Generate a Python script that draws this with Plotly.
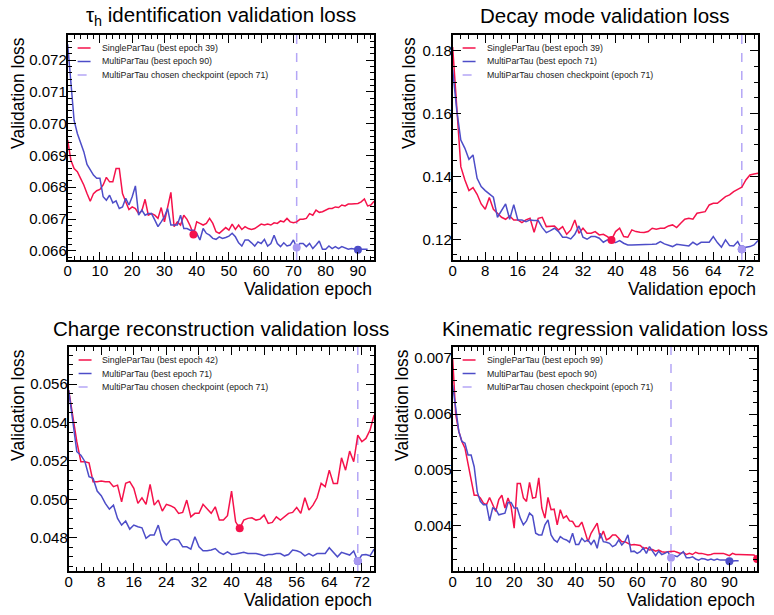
import plotly.graph_objects as go

W, H = 774, 615

# ---------------- data ----------------
CHOSEN_EPOCH = 71

tau_single = [0.06948, 0.06885, 0.06859, 0.06849, 0.06828, 0.06807, 0.06780, 0.06756, 0.06780, 0.06789,
              0.06793, 0.06807, 0.06831, 0.06817, 0.06817, 0.06859, 0.06859, 0.06780, 0.06754, 0.06730,
              0.06738, 0.06733, 0.06717, 0.06726, 0.06762, 0.06712, 0.06717, 0.06712, 0.06702, 0.06736,
              0.06691, 0.06733, 0.06784, 0.06676, 0.06691, 0.06681, 0.06712, 0.06699, 0.06678, 0.06651,
              0.06691, 0.06686, 0.06681, 0.06686, 0.06702, 0.06686, 0.06660, 0.06655, 0.06665, 0.06673,
              0.06665, 0.06684, 0.06667, 0.06681, 0.06667, 0.06676, 0.06670, 0.06667, 0.06670, 0.06676,
              0.06684, 0.06681, 0.06684, 0.06681, 0.06688, 0.06686, 0.06694, 0.06691, 0.06702, 0.06691,
              0.06688, 0.06691, 0.06699, 0.06699, 0.06702, 0.06717, 0.06712, 0.06728, 0.06721, 0.06723,
              0.06728, 0.06733, 0.06733, 0.06738, 0.06736, 0.06744, 0.06741, 0.06747, 0.06747, 0.06749,
              0.06749, 0.06754, 0.06763, 0.06741, 0.06744, 0.06756]
tau_multi = [0.07250, 0.07130, 0.07010, 0.06969, 0.06943, 0.06912, 0.06872, 0.06854, 0.06838, 0.06828,
             0.06828, 0.06770, 0.06759, 0.06775, 0.06751, 0.06757, 0.06733, 0.06738, 0.06765, 0.06744,
             0.06770, 0.06804, 0.06712, 0.06728, 0.06712, 0.06717, 0.06717, 0.06697, 0.06676, 0.06691,
             0.06707, 0.06733, 0.06681, 0.06681, 0.06681, 0.06712, 0.06670, 0.06670, 0.06665, 0.06665,
             0.06655, 0.06634, 0.06670, 0.06655, 0.06649, 0.06639, 0.06636, 0.06644, 0.06639, 0.06642,
             0.06646, 0.06655, 0.06644, 0.06625, 0.06615, 0.06634, 0.06634, 0.06625, 0.06615, 0.06628,
             0.06623, 0.06636, 0.06615, 0.06623, 0.06649, 0.06623, 0.06613, 0.06625, 0.06615, 0.06618,
             0.06634, 0.06610, 0.06623, 0.06623, 0.06613, 0.06623, 0.06607, 0.06618, 0.06631, 0.06605,
             0.06605, 0.06615, 0.06607, 0.06613, 0.06607, 0.06613, 0.06609, 0.06605, 0.06607, 0.06605,
             0.06603, 0.06605, 0.06605, 0.06605]

dm_single = [0.18120, 0.16113, 0.14311, 0.13887, 0.13548, 0.13643, 0.13431, 0.13124, 0.12954, 0.13325,
             0.12954, 0.12827, 0.12700, 0.12636, 0.12742, 0.12615, 0.12615, 0.12530, 0.12615, 0.12668,
             0.12223, 0.12668, 0.12700, 0.12403, 0.12424, 0.12424, 0.12297, 0.12403, 0.12159, 0.12297,
             0.12615, 0.12191, 0.12350, 0.12191, 0.12191, 0.12244, 0.12138, 0.12159, 0.12085, 0.11979,
             0.12244, 0.12350, 0.12085, 0.12064, 0.12297, 0.12244, 0.12223, 0.12212, 0.12244, 0.12350,
             0.12318, 0.12350, 0.12350, 0.12424, 0.12456, 0.12371, 0.12509, 0.12636, 0.12668, 0.12636,
             0.12827, 0.12848, 0.12880, 0.13092, 0.13145, 0.13145, 0.13251, 0.13357, 0.13410, 0.13516,
             0.13590, 0.13654, 0.13887, 0.14046, 0.14078, 0.14099]
dm_multi = [0.17400, 0.16113, 0.15159, 0.14894, 0.14544, 0.14682, 0.13940, 0.13675, 0.13548, 0.13431,
            0.13336, 0.12700, 0.12933, 0.13124, 0.12636, 0.13103, 0.12615, 0.12615, 0.12562, 0.12615,
            0.12594, 0.12594, 0.12371, 0.12212, 0.12276, 0.12350, 0.12244, 0.12064, 0.12064, 0.12011,
            0.12159, 0.12424, 0.12064, 0.12000, 0.12085, 0.12085, 0.12032, 0.11905, 0.11979, 0.11905,
            0.11894, 0.11958, 0.11873, 0.11820, 0.11820, 0.11820, 0.11820, 0.11820, 0.11841, 0.11841,
            0.11852, 0.11926, 0.11852, 0.11799, 0.11767, 0.11841, 0.11820, 0.11799, 0.11788, 0.11905,
            0.11820, 0.11905, 0.11894, 0.11905, 0.12085, 0.11894, 0.11746, 0.11979, 0.11799, 0.11788,
            0.11926, 0.11682, 0.11746, 0.11767, 0.11820, 0.11958]

charge_single = [0.05569, 0.05439, 0.05300, 0.05196, 0.05196, 0.05190, 0.05092, 0.05092, 0.05095, 0.05092,
                 0.05092, 0.05066, 0.05074, 0.04987, 0.05083, 0.05092, 0.05057, 0.04979, 0.05008, 0.04974,
                 0.05078, 0.04970, 0.04996, 0.04939, 0.04974, 0.04967, 0.04956, 0.04927, 0.04932, 0.04996,
                 0.04909, 0.04927, 0.04927, 0.04974, 0.04953, 0.04927, 0.04961, 0.04892, 0.04892, 0.04915,
                 0.05043, 0.04883, 0.04849, 0.04892, 0.04901, 0.04904, 0.04892, 0.04897, 0.04918, 0.04875,
                 0.04880, 0.04909, 0.04892, 0.04909, 0.04927, 0.04932, 0.04958, 0.04927, 0.05008, 0.04944,
                 0.04970, 0.05008, 0.05083, 0.05066, 0.05152, 0.05083, 0.05083, 0.05216, 0.05152, 0.05251,
                 0.05196, 0.05334, 0.05300, 0.05317, 0.05360, 0.05439]
charge_multi = [0.05569, 0.05404, 0.05248, 0.05230, 0.05196, 0.05118, 0.05109, 0.05043, 0.05019, 0.04979,
                0.04949, 0.04970, 0.04901, 0.04866, 0.04887, 0.04845, 0.04866, 0.04857, 0.04852, 0.04797,
                0.04814, 0.04814, 0.04866, 0.04788, 0.04762, 0.04788, 0.04793, 0.04788, 0.04753, 0.04753,
                0.04741, 0.04805, 0.04753, 0.04732, 0.04732, 0.04736, 0.04744, 0.04724, 0.04713, 0.04727,
                0.04713, 0.04715, 0.04718, 0.04724, 0.04718, 0.04718, 0.04718, 0.04713, 0.04706, 0.04713,
                0.04713, 0.04718, 0.04718, 0.04706, 0.04713, 0.04736, 0.04732, 0.04724, 0.04706, 0.04718,
                0.04706, 0.04718, 0.04718, 0.04718, 0.04748, 0.04724, 0.04701, 0.04724, 0.04718, 0.04710,
                0.04731, 0.04679, 0.04710, 0.04713, 0.04706, 0.04741]

kin_single = [0.00700, 0.00599, 0.00569, 0.00551, 0.00539, 0.00512, 0.00482, 0.00455, 0.00455, 0.00450,
              0.00441, 0.00438, 0.00451, 0.00439, 0.00426, 0.00447, 0.00455, 0.00432, 0.00450, 0.00435,
              0.00396, 0.00476, 0.00476, 0.00450, 0.00444, 0.00478, 0.00450, 0.00451, 0.00486, 0.00432,
              0.00414, 0.00451, 0.00429, 0.00430, 0.00402, 0.00429, 0.00414, 0.00418, 0.00409, 0.00408,
              0.00399, 0.00399, 0.00407, 0.00390, 0.00372, 0.00387, 0.00397, 0.00405, 0.00378, 0.00391,
              0.00375, 0.00378, 0.00384, 0.00384, 0.00378, 0.00372, 0.00372, 0.00369, 0.00366, 0.00367,
              0.00366, 0.00365, 0.00360, 0.00361, 0.00357, 0.00358, 0.00355, 0.00357, 0.00354, 0.00353,
              0.00354, 0.00354, 0.00355, 0.00353, 0.00351, 0.00353, 0.00349, 0.00351, 0.00349, 0.00353,
              0.00351, 0.00351, 0.00349, 0.00348, 0.00349, 0.00351, 0.00351, 0.00351, 0.00351, 0.00349,
              0.00347, 0.00351, 0.00349, 0.00349, 0.00349, 0.00349, 0.00349, 0.00349, 0.00348, 0.00341]
kin_multi = [0.00652, 0.00605, 0.00569, 0.00551, 0.00548, 0.00527, 0.00527, 0.00506, 0.00461, 0.00444,
             0.00438, 0.00438, 0.00409, 0.00432, 0.00430, 0.00420, 0.00421, 0.00423, 0.00442, 0.00442,
             0.00432, 0.00432, 0.00414, 0.00402, 0.00409, 0.00423, 0.00418, 0.00387, 0.00384, 0.00384,
             0.00402, 0.00411, 0.00384, 0.00375, 0.00371, 0.00381, 0.00377, 0.00375, 0.00371, 0.00387,
             0.00367, 0.00367, 0.00378, 0.00372, 0.00375, 0.00367, 0.00375, 0.00360, 0.00387, 0.00372,
             0.00371, 0.00369, 0.00363, 0.00366, 0.00375, 0.00366, 0.00372, 0.00384, 0.00354, 0.00355,
             0.00351, 0.00354, 0.00361, 0.00351, 0.00363, 0.00354, 0.00347, 0.00355, 0.00349, 0.00351,
             0.00354, 0.00343, 0.00347, 0.00345, 0.00349, 0.00354, 0.00343, 0.00343, 0.00345, 0.00341,
             0.00339, 0.00342, 0.00341, 0.00339, 0.00341, 0.00339, 0.00341, 0.00339, 0.00339, 0.00339,
             0.00337, 0.00338, 0.00338, 0.00338]

titles = ["τ<sub>h</sub> identification validation loss", "Decay mode validation loss",
          "Charge reconstruction validation loss", "Kinematic regression validation loss"]
best_single = [39, 39, 42, 99]
best_multi = [90, 71, 71, 90]
x_tick_step = [10, 8, 8, 10]
y_tick_step = [0.001, 0.02, 0.002, 0.001]
y_tick_format = [".3f", ".2f", ".3f", ".3f"]
x_ranges = [[0, 95], [0, 75], [0, 75], [0, 99]]
y_ranges = [[0.06571, 0.07279], [0.1134, 0.1850], [0.04627, 0.05793], [0.003195, 0.00720]]

singles = [tau_single, dm_single, charge_single, kin_single]
multis = [tau_multi, dm_multi, charge_multi, kin_multi]

# ---------------- style / layout ----------------
RED = "#f5124b"
BLUE = "#4d4dc8"
LAV = "#b4a6f6"
LAV_DOT = "#a898f2"
FONT = "Liberation Sans, Arial, Helvetica, sans-serif"

# plot boxes in pixels (left, top, right, bottom)
boxes = [(64, 35, 372, 260), (451, 35, 758, 260), (65, 347, 372, 571), (451, 347, 757, 571)]
ytitle_x = [14, 407, 14, 400]
minor_x = [2, 2, 2, 2]
minor_y = [0.0002, 0.005, 0.0005, 0.0002]


def px(xp):
    return xp / W


def py(yp):
    return 1 - yp / H


fig = go.Figure()
annotations = []
shapes = []
layout = dict(width=W, height=H, margin=dict(l=0, r=0, t=0, b=0),
              paper_bgcolor="white", plot_bgcolor="white", showlegend=False,
              font=dict(family=FONT, color="black"))

for i in range(4):
    k = "" if i == 0 else str(i + 1)
    xa, ya = "x" + k, "y" + k
    L, T, R, B = boxes[i]
    s, m = singles[i], multis[i]
    xs = list(range(len(s)))
    xm = list(range(len(m)))

    fig.add_trace(go.Scatter(x=xs, y=s, mode="lines", line=dict(color=RED, width=1.5),
                             xaxis=xa, yaxis=ya, cliponaxis=True))
    fig.add_trace(go.Scatter(x=xm, y=m, mode="lines", line=dict(color=BLUE, width=1.5),
                             xaxis=xa, yaxis=ya, cliponaxis=True))
    bs, bm = best_single[i], best_multi[i]
    fig.add_trace(go.Scatter(x=[bs], y=[s[bs]], mode="markers", marker=dict(color=RED, size=8),
                             xaxis=xa, yaxis=ya, cliponaxis=True))
    fig.add_trace(go.Scatter(x=[bm], y=[m[bm]], mode="markers", marker=dict(color=BLUE, size=8),
                             xaxis=xa, yaxis=ya, cliponaxis=True))
    fig.add_trace(go.Scatter(x=[CHOSEN_EPOCH], y=[m[CHOSEN_EPOCH]], mode="markers",
                             marker=dict(color=LAV_DOT, size=8), xaxis=xa, yaxis=ya, cliponaxis=True))

    shapes.append(dict(type="line", xref=xa, yref=ya + " domain", x0=CHOSEN_EPOCH, x1=CHOSEN_EPOCH,
                       y0=0, y1=1, line=dict(color=LAV, width=1.5, dash="dash"), layer="below"))

    common = dict(showline=True, linecolor="black", linewidth=1.8, mirror="allticks",
                  ticks="inside", ticklen=8, tickwidth=1.2, tickcolor="black",
                  showgrid=False, zeroline=False, fixedrange=True, ticklabelstandoff=-4,
                  tickfont=dict(size=15, family=FONT, color="black"))
    layout["xaxis" + k] = dict(common, domain=[px(L), px(R)], anchor=ya, range=x_ranges[i],
                               tick0=0, dtick=x_tick_step[i],
                               minor=dict(dtick=minor_x[i], tick0=0, ticks="inside", ticklen=4,
                                          tickwidth=1, tickcolor="black", showgrid=False))
    layout["yaxis" + k] = dict(common, domain=[py(B), py(T)], anchor=xa, range=y_ranges[i],
                               tick0=0, dtick=y_tick_step[i], tickformat=y_tick_format[i],
                               minor=dict(dtick=minor_y[i], tick0=0, ticks="inside", ticklen=4,
                                          tickwidth=1, tickcolor="black", showgrid=False))

    # title
    annotations.append(dict(text=titles[i], x=px((L + R) / 2), y=py(T - 19),
                            xref="paper", yref="paper", xanchor="center", yanchor="middle",
                            showarrow=False, font=dict(size=20.5, family=FONT, color="black")))
    # axis titles
    annotations.append(dict(text="Validation epoch", x=px(R), y=py(B + 29), xref="paper", yref="paper",
                            xanchor="right", yanchor="middle", showarrow=False,
                            font=dict(size=17.5, family=FONT, color="black")))
    annotations.append(dict(text="Validation loss", x=px(ytitle_x[i]), y=py(T), xref="paper", yref="paper",
                            xanchor="center", yanchor="top", textangle=-90, showarrow=False,
                            font=dict(size=17.5, family=FONT, color="black")))

    # legend
    labels = ["SingleParTau (best epoch %d)" % bs, "MultiParTau (best epoch %d)" % bm,
              "MultiParTau chosen checkpoint (epoch %d)" % CHOSEN_EPOCH]
    colors = [RED, BLUE, LAV]
    dashes = ["solid", "solid", "dash"]
    for j in range(3):
        yy = T + 13 + j * 13.5
        shapes.append(dict(type="line", xref="paper", yref="paper", x0=px(L + 10), x1=px(L + 23),
                           y0=py(yy), y1=py(yy), line=dict(color=colors[j], width=1.5, dash=dashes[j])))
        annotations.append(dict(text=labels[j], x=px(L + 32), y=py(yy), xref="paper", yref="paper",
                                xanchor="left", yanchor="middle", showarrow=False,
                                font=dict(size=8.8, family=FONT, color="#222")))

layout["annotations"] = annotations
layout["shapes"] = shapes
fig.update_layout(**layout)
fig.write_html("out.html")
